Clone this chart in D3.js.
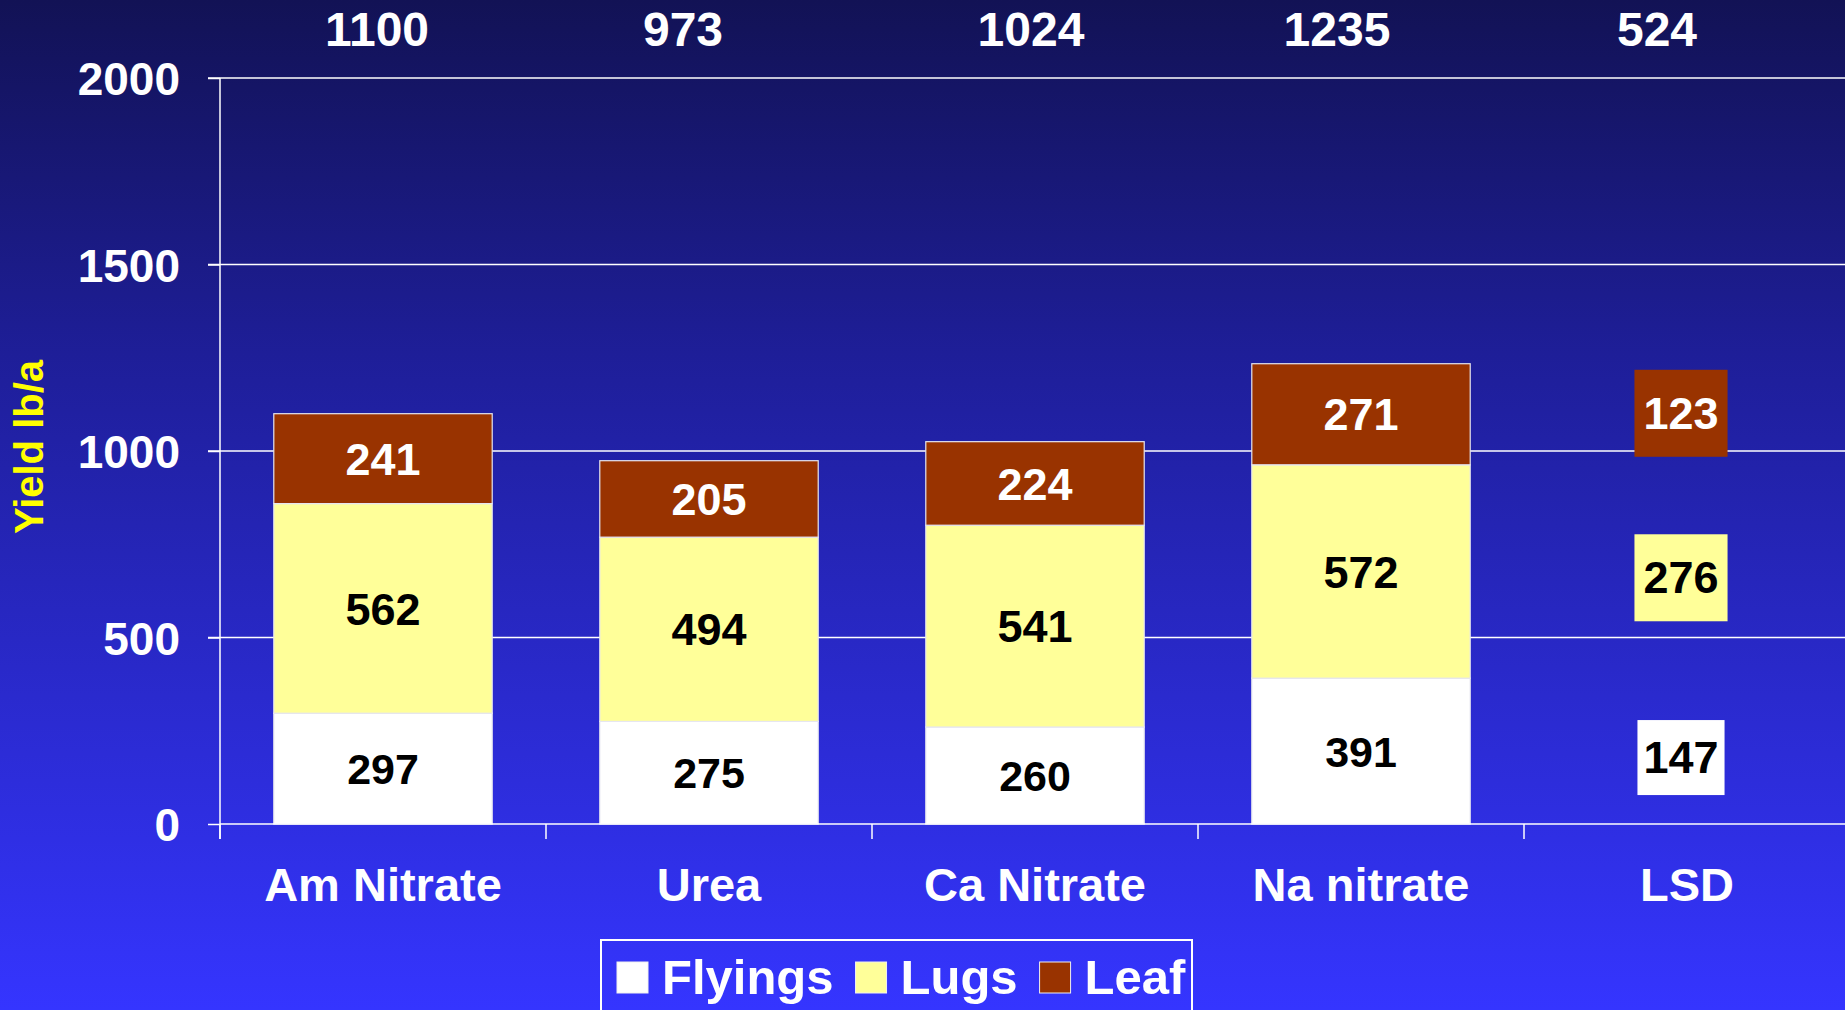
<!DOCTYPE html>
<html>
<head>
<meta charset="utf-8">
<script src="https://cdn.jsdelivr.net/npm/d3@7"></script>
<style>
  body { margin: 0; overflow: hidden; }
  text { font-family: "Liberation Sans", Arial, sans-serif; font-weight: bold; }
</style>
</head>
<body>
<div class="chart"></div>
<script>
const categories = ["Am Nitrate", "Urea", "Ca Nitrate", "Na nitrate", "LSD"];
const seriesNames = ["Flyings", "Lugs", "Leaf"];
const flyings = [297, 275, 260, 391];
const lugs = [562, 494, 541, 572];
const leaf = [241, 205, 224, 271];
const totals = [1100, 973, 1024, 1235, 524];
const lsdValues = [147, 276, 123];
// yield level (lb/a) where each LSD box sits
const lsdLevels = [180, 662, 1103];
const yTicks = [0, 500, 1000, 1500, 2000];

const width = 1845, height = 1010;
const margin = {top: 78, left: 220, bottom: 186};
const colors = {Flyings: "#ffffff", Lugs: "#ffff99", Leaf: "#993300"};
const labelColors = {Flyings: "#000", Lugs: "#000", Leaf: "#fff"};
// the totals row sits a little left of the bar centres in the original
const totalNudge = [-6, -26, -4, -24, -30];

const svg = d3.select(".chart").append("svg")
  .attr("width", width)
  .attr("height", height);

const grad = svg.append("defs").append("linearGradient")
  .attr("id", "bg").attr("x1", 0).attr("y1", 0).attr("x2", 0).attr("y2", 1);
grad.append("stop").attr("offset", "0%").attr("stop-color", "#121255");
grad.append("stop").attr("offset", "35%").attr("stop-color", "#1e1e98");
grad.append("stop").attr("offset", "100%").attr("stop-color", "#3535ff");

svg.append("rect").attr("width", width).attr("height", height).attr("fill", "url(#bg)");

const x = d3.scaleBand()
  .domain(categories)
  .range([margin.left, margin.left + 326 * categories.length])
  .paddingInner(0.33)
  .paddingOuter(0.165);

const y = d3.scaleLinear()
  .domain([0, 2000])
  .range([height - margin.bottom, margin.top]);

// gridlines
svg.append("g").selectAll("line")
  .data(yTicks.slice(1))
  .enter().append("line")
  .attr("x1", margin.left - 12).attr("x2", width)
  .attr("y1", d => y(d)).attr("y2", d => y(d))
  .attr("stroke", "#fff").attr("stroke-width", 1.5);

// stacked bars
const rows = categories.slice(0, 4).map((c, i) => ({
  cat: c, Flyings: flyings[i], Lugs: lugs[i], Leaf: leaf[i]
}));
const stacked = d3.stack().keys(seriesNames)(rows);

const layers = svg.append("g").selectAll("g")
  .data(stacked)
  .enter().append("g");

layers.selectAll("rect")
  .data(d => d.map(s => ({key: d.key, s: s})))
  .enter().append("rect")
  .attr("x", d => x(d.s.data.cat))
  .attr("width", x.bandwidth())
  .attr("y", d => y(d.s[1]))
  .attr("height", d => y(d.s[0]) - y(d.s[1]))
  .attr("fill", d => colors[d.key])
  .attr("stroke", "#e6e6f0")
  .attr("stroke-width", 1.2);

layers.selectAll("text")
  .data(d => d.map(s => ({key: d.key, s: s})))
  .enter().append("text")
  .attr("x", d => x(d.s.data.cat) + x.bandwidth() / 2)
  .attr("y", d => y((d.s[0] + d.s[1]) / 2))
  .attr("dy", "0.36em")
  .attr("text-anchor", "middle")
  .attr("font-size", d => d.key === "Flyings" ? 43 : 45)
  .attr("fill", d => labelColors[d.key])
  .text(d => d.s[1] - d.s[0]);

// LSD boxes
const lsdG = svg.append("g").selectAll("g")
  .data(lsdValues.map((v, i) => ({key: seriesNames[i], v: v, lvl: lsdLevels[i]})))
  .enter().append("g");
const lsdCx = x("LSD") + x.bandwidth() / 2 - 6;
lsdG.append("rect").attr("fill", d => colors[d.key]);
lsdG.append("text")
  .attr("x", lsdCx)
  .attr("y", d => y(d.lvl))
  .attr("dy", "0.36em")
  .attr("text-anchor", "middle")
  .attr("font-size", 45)
  .attr("fill", d => labelColors[d.key])
  .text(d => d.v);
lsdG.each(function(d) {
  const g = d3.select(this);
  const b = g.select("text").node().getBBox();
  const padY = d.key === "Flyings" ? 12 : 18;
  const padX = d.key === "Flyings" ? 6 : 9;
  g.select("rect")
    .attr("x", b.x - padX).attr("width", b.width + 2 * padX)
    .attr("y", b.y - padY).attr("height", b.height + 2 * padY);
});

// y axis
const yAxis = d3.axisLeft(y).tickValues(yTicks).tickFormat(d3.format("d"))
  .tickSize(12).tickSizeOuter(0).tickPadding(28);
const yg = svg.append("g")
  .attr("transform", `translate(${margin.left},0)`)
  .call(yAxis);
yg.select(".domain").remove();
yg.selectAll("line").attr("stroke", "#fff").attr("stroke-width", 1.5);
yg.selectAll("text").attr("fill", "#fff").attr("font-size", 46)
  .style("font-family", "'Liberation Sans', Arial, sans-serif").style("font-weight", "bold")
  .attr("dy", "0.36em");

svg.append("line")
  .attr("x1", margin.left).attr("x2", margin.left)
  .attr("y1", y(2000)).attr("y2", y(0) + 15)
  .attr("stroke", "#fff").attr("stroke-width", 1.5);

// x axis
const xAxis = d3.axisBottom(x).tickSize(0).tickPadding(44);
const xg = svg.append("g")
  .attr("transform", `translate(0,${y(0)})`)
  .call(xAxis);
xg.select(".domain").remove();
xg.selectAll("text").attr("fill", "#fff").attr("font-size", 47)
  .style("font-family", "'Liberation Sans', Arial, sans-serif").style("font-weight", "bold");

svg.append("line")
  .attr("x1", margin.left).attr("x2", width)
  .attr("y1", y(0)).attr("y2", y(0))
  .attr("stroke", "#fff").attr("stroke-width", 1.5);

const gap = (x.step() - x.bandwidth()) / 2;
svg.append("g").selectAll("line")
  .data(categories)
  .enter().append("line")
  .attr("x1", d => x(d) - gap).attr("x2", d => x(d) - gap)
  .attr("y1", y(0)).attr("y2", y(0) + 15)
  .attr("stroke", "#fff").attr("stroke-width", 1.5);

// totals on top
svg.append("g").selectAll("text")
  .data(totals)
  .enter().append("text")
  .attr("x", (d, i) => x(categories[i]) + x.bandwidth() / 2 + totalNudge[i])
  .attr("y", 46)
  .attr("text-anchor", "middle")
  .attr("font-size", 48)
  .attr("fill", "#fff")
  .text(d => d);

// y label
svg.append("text")
  .attr("transform", "translate(29,447) rotate(-90)")
  .attr("text-anchor", "middle")
  .attr("dy", "0.36em")
  .attr("font-size", 40)
  .attr("fill", "#ffff00")
  .text("Yield lb/a");

// legend
const legend = svg.append("g");
legend.append("rect")
  .attr("x", 601).attr("y", 940)
  .attr("width", 591).attr("height", 100)
  .attr("fill", "none").attr("stroke", "#fff").attr("stroke-width", 2);
let lx = 617;
seriesNames.forEach(name => {
  legend.append("rect")
    .attr("x", lx).attr("y", 962).attr("width", 31).attr("height", 31)
    .attr("fill", colors[name]).attr("stroke", "#f0f0f0").attr("stroke-width", 1);
  const t = legend.append("text")
    .attr("x", lx + 45).attr("y", 994)
    .attr("font-size", 49).attr("fill", "#fff")
    .text(name);
  lx += 45 + t.node().getComputedTextLength() + 22;
});
</script>
</body>
</html>
